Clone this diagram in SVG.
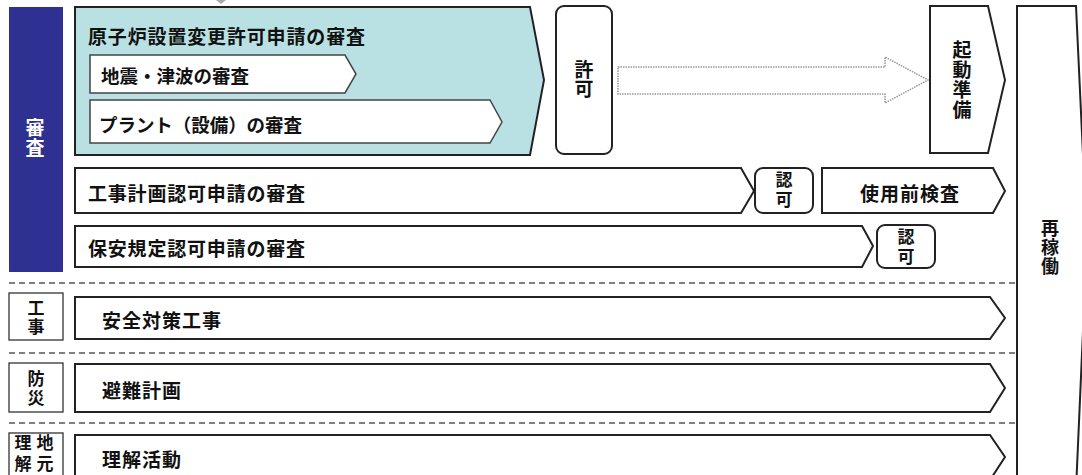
<svg xmlns="http://www.w3.org/2000/svg" width="1082" height="475" viewBox="0 0 1082 475">
<style>
.s{fill:#fff;stroke:#222;stroke-width:2;stroke-linejoin:miter}
.lb{fill:#fff;stroke:#333;stroke-width:1.3}
.t{font-family:"Noto Sans CJK JP","Noto Sans",sans-serif;font-weight:bold;font-size:19px;fill:#111;dominant-baseline:central}
.v{font-family:"Noto Sans CJK JP","Noto Sans",sans-serif;font-weight:bold;font-size:19px;fill:#111;text-anchor:middle;writing-mode:vertical-rl}
.d{stroke:#555;stroke-width:1.5;stroke-dasharray:6 4;fill:none}
</style>
<rect width="1082" height="475" fill="#fff"/>
<polygon points="216,0 226,0 221,4" fill="#aaa"/>

<g id="shinsa-label">
<rect x="9" y="7" width="54" height="265" fill="#2e3192"/>
<text class="v" x="35" y="138" style="fill:#fff;letter-spacing:1px">審査</text>
</g>

<g id="genshiro">
<polygon class="s" points="75,7 530,7 544,80 530,155 75,155" style="fill:#b9e0e3"/>
<text class="t" x="88" y="35" textLength="277" lengthAdjust="spacing">原子炉設置変更許可申請の審査</text>
</g>
<g id="jishin">
<polygon class="s" points="90,55 345,55 356,74 345,93 90,93" style="stroke-width:1.5;stroke:#444"/>
<text class="t" x="101" y="75" textLength="148" lengthAdjust="spacing" style="font-size:18.5px">地震・津波の審査</text>
</g>
<g id="plant">
<polygon class="s" points="90,100 490,100 502,122 490,143 90,143" style="stroke-width:1.5;stroke:#444"/>
<text class="t" x="99" y="124" textLength="203" lengthAdjust="spacing" style="font-size:18.5px">プラント（設備）の審査</text>
</g>

<g id="kyoka">
<rect class="s" x="556" y="6" width="56" height="148" rx="8"/>
<text class="v" x="584" y="79" style="letter-spacing:0px">許可</text>
</g>

<g id="connectors">
<polygon points="618,67 885,67 885,57 928,80 885,103 885,94 618,94" fill="#fff" stroke="#999" stroke-width="1.5" stroke-dasharray="1.5 1"/>
</g>

<g id="kidou">
<polygon class="s" points="930,6 988,6 1005,80 988,153 930,153"/>
<text class="v" x="962" y="80" style="letter-spacing:1px">起動準備</text>
</g>

<g id="saikadou">
<polygon class="s" points="1017,6 1076,6 1087,240 1076,490 1017,490"/>
<text class="v" x="1050" y="248" style="font-size:18px;letter-spacing:1px">再稼働</text>
</g>

<g id="koujikeikaku">
<polygon class="s" points="75,168 741,168 754,191 741,213 75,213"/>
<text class="t" x="88" y="192" textLength="217" lengthAdjust="spacing">工事計画認可申請の審査</text>
</g>
<g id="ninka1">
<rect class="s" x="755" y="168" width="58" height="45" rx="8"/>
<text class="v" x="784" y="191" style="font-size:17px;letter-spacing:3px">認可</text>
</g>
<g id="shiyoumae">
<polygon class="s" points="822,168 993,168 1005,191 993,213 822,213"/>
<text class="t" x="860" y="192" textLength="99" lengthAdjust="spacing">使用前検査</text>
</g>

<g id="hoan">
<polygon class="s" points="75,226 862,226 873,246 862,267 75,267"/>
<text class="t" x="88" y="247" textLength="217" lengthAdjust="spacing">保安規定認可申請の審査</text>
</g>
<g id="ninka2">
<rect class="s" x="877" y="225" width="58" height="43" rx="8"/>
<text class="v" x="906" y="248" style="font-size:17px;letter-spacing:3px">認可</text>
</g>

<g id="separators">
<line class="d" x1="9" y1="283" x2="1017" y2="283"/>
<line class="d" x1="9" y1="353" x2="1017" y2="353"/>
<line class="d" x1="9" y1="423" x2="1017" y2="423"/>
</g>

<g id="kouji-label">
<rect class="lb" x="9" y="293" width="54" height="47"/>
<text class="v" x="36" y="318" style="font-size:17px;letter-spacing:2px">工事</text>
</g>
<g id="anzen">
<polygon class="s" points="75,297 990,297 1005,318 990,339 75,339"/>
<text class="t" x="102" y="319" textLength="119" lengthAdjust="spacing">安全対策工事</text>
</g>

<g id="bousai-label">
<rect class="lb" x="9" y="363" width="54" height="49"/>
<text class="v" x="36" y="389" style="font-size:17px;letter-spacing:2px">防災</text>
</g>
<g id="hinan">
<polygon class="s" points="75,364 990,364 1005,388 990,412 75,412"/>
<text class="t" x="102" y="389" textLength="79" lengthAdjust="spacing">避難計画</text>
</g>

<g id="chimoto-label">
<rect class="lb" x="9" y="433" width="54" height="55"/>
<text class="v" x="45" y="455" style="font-size:17px;letter-spacing:4px">地元</text>
<text class="v" x="23" y="455" style="font-size:17px;letter-spacing:4px">理解</text>
</g>
<g id="rikai">
<polygon class="s" points="75,435 990,435 1005,457 990,480 75,480"/>
<text class="t" x="102" y="458" textLength="79" lengthAdjust="spacing">理解活動</text>
</g>
</svg>
